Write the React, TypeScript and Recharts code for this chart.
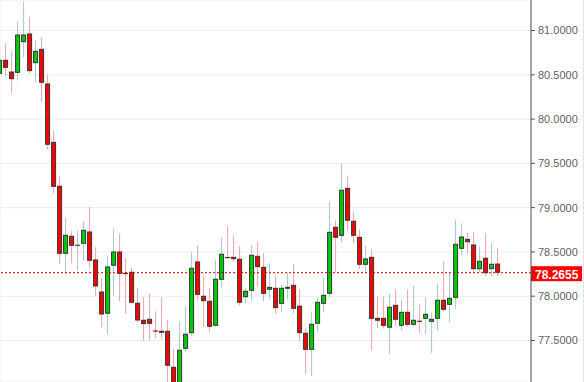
import { Bar, CartesianGrid, ComposedChart, ReferenceLine, XAxis, YAxis } from 'recharts';

const opens = [
  80.511, 80.669, 80.537, 80.522, 80.868, 80.966, 80.631, 80.793, 80.402, 79.743,
  79.247, 78.479, 78.682, 78.57, 78.592, 78.731, 78.415, 78.053, 77.802, 78.344,
  78.505, 78.257, 78.276, 77.926, 77.734, 77.745, 77.607, 77.61, 77.61, 77.203,
  76.879, 77.406, 77.583, 78.392, 78.005, 77.948, 77.666, 78.185, 78.436, 78.445,
  78.423, 77.989, 78.061, 78.456, 78.332, 78.073, 78.095, 77.914, 78.084, 78.129,
  77.893, 77.587, 77.395, 77.689, 77.914, 78.027, 78.784, 78.682, 79.224, 78.852,
  78.671, 78.355, 78.445, 77.756, 77.756, 77.644, 77.903, 77.666, 77.824, 77.677,
  77.717, 77.745, 77.711, 77.745, 77.96, 77.903, 77.982, 78.535, 78.648, 78.584,
  78.305, 78.434, 78.305, 78.369,
];
const highs = [
  80.68, 80.857, 80.766, 81.105, 81.327, 81.15, 80.887, 80.924, 80.503, 79.871,
  79.352, 78.892, 78.742, 78.742, 78.847, 79.005, 78.553, 78.197, 78.46, 78.765,
  78.705, 78.429, 78.324, 78.095, 77.989, 78.031, 77.828, 77.989, 77.734, 77.406,
  77.715, 77.884, 78.497, 78.565, 78.234, 78.091, 78.415, 78.666, 78.787, 78.689,
  78.565, 78.095, 78.573, 78.61, 78.486, 78.373, 78.234, 78.132, 78.264, 78.364,
  78.079, 77.639, 77.816, 77.986, 78.203, 79.069, 78.855, 79.498, 79.363, 78.957,
  78.75, 78.569, 78.528, 78.0, 78.0, 78.027, 78.076, 77.963, 78.076, 78.121,
  77.918, 77.986, 77.813, 78.144, 78.392, 78.279, 78.866, 78.824, 78.712, 78.723,
  78.561, 78.712, 78.599, 78.542,
];
const lows = [
  80.5, 80.481, 80.292, 80.436, 80.699, 80.518, 80.416, 80.191, 79.657, 79.163,
  78.366, 78.245, 78.373, 78.298, 78.403, 78.321, 78.005, 77.65, 77.565, 78.005,
  77.944, 77.802, 77.918, 77.707, 77.497, 77.504, 77.526, 77.519, 76.936, 76.823,
  76.766, 77.368, 77.549, 77.952, 77.65, 77.594, 77.658, 78.102, 78.426, 78.39,
  77.895, 77.921, 77.952, 78.11, 77.944, 77.966, 77.802, 77.82, 77.966, 77.808,
  77.5, 77.124, 77.097, 77.594, 77.82, 77.989, 78.268, 78.61, 78.742, 78.599,
  78.31, 78.271, 77.387, 77.639, 77.636, 77.35, 77.669, 77.613, 77.655, 77.655,
  77.587, 77.571, 77.357, 77.613, 77.828, 77.709, 77.858, 78.46, 78.479, 78.271,
  78.271, 78.226, 78.226, 78.226,
];
const closes = [
  80.669, 80.579, 80.45, 80.955, 80.955, 80.541, 80.771, 80.41, 79.71, 79.235,
  78.479, 78.693, 78.569, 78.575, 78.75, 78.4, 78.11, 77.794, 78.336, 78.505,
  78.253, 78.253, 77.926, 77.726, 77.686, 77.689, 77.603, 77.587, 77.215, 76.879,
  77.395, 77.576, 78.321, 78.016, 77.944, 77.655, 78.197, 78.479, 78.432, 78.418,
  77.926, 78.061, 78.468, 78.328, 78.027, 78.106, 77.865, 78.095, 78.106, 77.858,
  77.583, 77.395, 77.689, 77.937, 78.016, 78.727, 78.66, 79.202, 78.852, 78.682,
  78.355, 78.426, 77.745, 77.723, 77.666, 77.881, 77.734, 77.824, 77.677, 77.734,
  77.713, 77.802, 77.745, 77.96, 77.847, 77.982, 78.592, 78.674, 78.61, 78.305,
  78.4, 78.26, 78.366, 78.2655,
];
const priceTicks = [77.5, 78, 78.5, 79, 79.5, 80, 80.5, 81];
const sessionStarts = [6, 27, 49, 72, 85];
const lastPrice = 78.2655;

const data = opens.map((open, i) => ({
  idx: i,
  open,
  high: highs[i],
  low: lows[i],
  close: closes[i],
  range: [lows[i], highs[i]],
}));

const Candle = (props: any) => {
  const { x, y, width, height, payload } = props;
  if (!payload || x == null || y == null) return null;
  const top = Math.min(y, y + height);
  const span = Math.abs(height);
  const { open, high, low, close } = payload;
  const toPx = (v: number) => top + ((high - v) / (high - low)) * span;
  const cx = x + width / 2;
  const up = close >= open;
  const oY = toPx(open);
  const cY = toPx(close);
  const bodyTop = Math.min(oY, cY);
  const bodyH = Math.abs(oY - cY);
  const wick = up ? '#a9c4cc' : '#e9a3ab';
  return (
    <g>
      <line x1={cx} x2={cx} y1={top} y2={top + span} stroke={wick} strokeWidth={1} />
      {bodyH < 1.5 ? (
        <line x1={cx - 2.5} x2={cx + 2.5} y1={bodyTop} y2={bodyTop} stroke={up ? '#2c5a3a' : '#7a1c1c'} strokeWidth={1.2} />
      ) : (
        <rect
          x={cx - 2}
          y={bodyTop + 0.5}
          width={4}
          height={Math.max(bodyH - 1, 0.5)}
          fill={up ? '#00cc00' : '#ff0000'}
          stroke="#333"
          strokeWidth={1}
        />
      )}
    </g>
  );
};

const PriceTag = (props: any) => {
  const { viewBox } = props;
  if (!viewBox) return null;
  const x = viewBox.x + viewBox.width;
  const y = viewBox.y;
  return (
    <g>
      <rect x={x} y={y - 6.5} width={51} height={15} fill="#ff0000" />
      <text x={x + 4} y={y + 6} fill="#fff" fontSize={12} fontWeight="bold" fontFamily="Arial, 'Liberation Sans', sans-serif">
        {lastPrice.toFixed(4)}
      </text>
    </g>
  );
};

const d0 = 0.5 / 6;
const d1 = d0 + 531 / 6;

export default function App() {
  return (
    <div
      style={{
        position: 'absolute',
        left: 0,
        top: 0,
        width: 584,
        height: 382,
        background: '#fff',
        boxShadow: 'inset -1px 0 0 #e4e4e4',
      }}
    >
      <ComposedChart width={584} height={382} data={data} margin={{ top: 0, right: 0, bottom: 0, left: 0 }}>
        <CartesianGrid stroke="#ececec" strokeWidth={1} />
        <XAxis
          dataKey="idx"
          type="number"
          domain={[d0, d1]}
          ticks={sessionStarts.map((i) => i + 1 / 6)}
          allowDataOverflow
          height={0}
          tick={false}
          axisLine={false}
          tickLine={false}
        />
        <YAxis
          orientation="right"
          width={53}
          domain={[77.0315, 81.3444]}
          allowDataOverflow
          ticks={priceTicks}
          interval={0}
          tickFormatter={(v: number) => v.toFixed(4)}
          tick={{ fill: '#5f5f5f', fontSize: 11, fontFamily: "Arial, 'Liberation Sans', sans-serif" }}
          tickSize={4}
          tickMargin={3}
          axisLine={{ stroke: '#555' }}
          tickLine={{ stroke: '#555' }}
        />
        <ReferenceLine y={lastPrice} stroke="#cc0000" strokeDasharray="2 2" strokeWidth={1} label={<PriceTag />} />
        <Bar dataKey="range" shape={<Candle />} isAnimationActive={false} />
      </ComposedChart>
    </div>
  );
}
